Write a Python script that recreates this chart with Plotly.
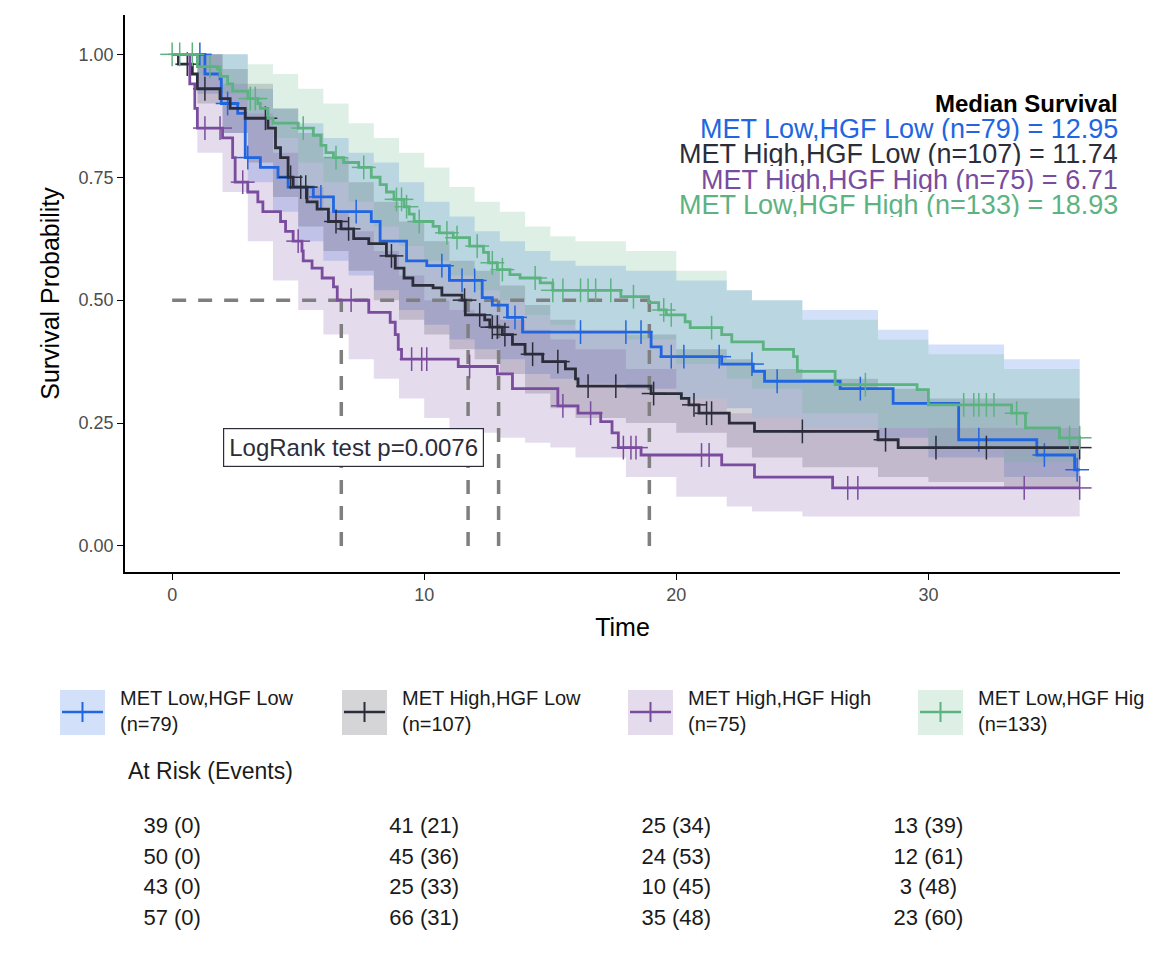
import plotly.graph_objects as go

# ---- data ----
groups = ["MET Low,HGF Low", "MET High,HGF Low", "MET High,HGF High", "MET Low,HGF High"]
n_sizes = [79, 107, 75, 133]
medians = [12.95, 11.74, 6.71, 18.93]
colors = ["#2166e0", "#2b2d3b", "#7a4c9e", "#5cb381"]
fills = ["rgba(33,102,224,0.2)", "rgba(43,45,59,0.2)", "rgba(122,76,158,0.2)", "rgba(92,179,129,0.2)"]

blue_t = [0, 1.3, 1.9, 1.95, 2.6, 2.9, 3.5, 4.2, 4.6, 5.6, 6.4, 7.9, 8.25, 9.3, 10.1, 11.0, 12.3, 12.7,
          13.3, 13.9, 19.0, 19.4, 21.8, 23.05, 23.5, 26.5, 28.6, 31.2, 34.3, 35.8, 36.0]
blue_s = [1.0, 0.96, 0.95, 0.90, 0.88, 0.79, 0.77, 0.75, 0.73, 0.71, 0.68, 0.66, 0.62, 0.58, 0.57, 0.54,
          0.505, 0.49, 0.465, 0.435, 0.405, 0.385, 0.37, 0.355, 0.335, 0.32, 0.29, 0.216, 0.185, 0.155, 0.155]
blue_cens = [1.1, 2.2, 3.0, 5.9, 7.3, 10.7, 11.5, 12.0, 13.6, 16.2, 18.0, 18.6, 19.8, 20.3, 21.7, 23.0,
             24.0, 27.3, 32.0, 34.6, 35.9]

dark_t = [0, 0.25, 0.8, 1.0, 1.9, 2.3, 2.9, 3.8, 4.1, 4.3, 4.6, 4.8, 5.35, 5.75, 6.2, 6.7, 7.2, 7.8, 8.5,
          8.85, 9.2, 9.55, 10.35, 10.7, 11.5, 11.63, 12.4, 12.6, 13.1, 13.5, 14.0, 14.7, 15.6, 16.0, 16.1,
          19.0, 20.2, 20.5, 20.9, 22.1, 23.1, 28.0, 28.8, 36.0]
dark_s = [1.0, 0.98, 0.96, 0.93, 0.91, 0.89, 0.87, 0.85, 0.81, 0.79, 0.75, 0.73, 0.70, 0.685, 0.66, 0.645,
          0.625, 0.615, 0.59, 0.565, 0.545, 0.53, 0.525, 0.51, 0.50, 0.47, 0.46, 0.445, 0.43, 0.41, 0.39,
          0.375, 0.36, 0.34, 0.325, 0.31, 0.30, 0.287, 0.27, 0.25, 0.233, 0.216, 0.20, 0.20]
dark_cens = [0.6, 1.3, 3.7, 4.7, 5.1, 5.3, 6.5, 7.0, 8.7, 11.6, 12.2, 12.7, 12.9, 13.2, 14.3, 15.3, 16.5,
             17.6, 19.1, 20.7, 21.2, 21.4, 25.0, 28.3, 30.3, 32.3, 36.0]

purple_t = [0, 0.7, 0.9, 1.0, 2.0, 2.4, 2.5, 3.0, 3.4, 3.6, 4.3, 4.5, 4.8, 5.15, 5.2, 5.55, 5.95, 6.4,
            6.55, 7.8, 8.65, 8.85, 8.97, 9.1, 11.35, 12.9, 13.5, 15.3, 16.1, 17.0, 17.45, 17.7, 18.6,
            21.8, 23.1, 26.2, 36.0]
purple_s = [1.0, 0.94, 0.89, 0.85, 0.83, 0.79, 0.74, 0.72, 0.70, 0.68, 0.66, 0.64, 0.62, 0.60, 0.58,
            0.565, 0.545, 0.527, 0.50, 0.475, 0.455, 0.43, 0.40, 0.38, 0.365, 0.35, 0.32, 0.285, 0.27,
            0.253, 0.23, 0.20, 0.185, 0.165, 0.14, 0.118, 0.118]
purple_cens = [1.3, 1.9, 2.8, 5.0, 7.1, 9.5, 9.9, 10.1, 11.8, 15.5, 16.6, 17.9, 18.2, 18.4, 21.0, 21.3,
               26.8, 27.2, 33.8, 36.0]

green_t = [0, 1.0, 1.8, 1.9, 2.2, 2.4, 3.0, 3.4, 3.5, 3.8, 4.0, 5.0, 5.6, 5.9, 6.1, 6.4, 6.8, 7.4, 7.9,
           8.25, 8.5, 8.8, 9.2, 9.4, 9.6, 10.35, 10.6, 11.15, 11.8, 12.35, 12.55, 12.9, 13.4, 13.8, 14.6,
           15.1, 17.8, 18.9, 19.3, 19.6, 20.35, 20.55, 21.8, 22.2, 23.45, 24.65, 24.8, 26.3, 29.55, 30.0,
           33.3, 33.85, 35.2, 36.0]
green_s = [1.0, 0.975, 0.97, 0.955, 0.94, 0.925, 0.91, 0.90, 0.89, 0.87, 0.86, 0.85, 0.835, 0.815, 0.80,
           0.79, 0.78, 0.77, 0.75, 0.735, 0.72, 0.705, 0.69, 0.675, 0.66, 0.65, 0.637, 0.627, 0.61,
           0.597, 0.576, 0.562, 0.552, 0.545, 0.535, 0.52, 0.507, 0.495, 0.48, 0.47, 0.456, 0.444, 0.43,
           0.415, 0.40, 0.385, 0.355, 0.328, 0.318, 0.287, 0.27, 0.24, 0.22, 0.22]
green_cens = [0.0, 0.3, 0.8, 1.5, 3.1, 3.3, 5.2, 6.5, 7.6, 8.9, 9.1, 9.3, 9.8, 10.9, 11.3, 12.1, 12.7,
              13.1, 14.4, 15.1, 15.5, 16.2, 16.5, 16.8, 17.4, 18.3, 19.5, 19.8, 21.4, 27.5, 31.4, 31.8,
              32.0, 32.3, 32.6, 33.5, 35.6, 36.0]

# coarse confidence bands (step knots)
band_t = [0, 1, 2, 3, 4, 5, 6, 7, 8, 9, 10, 11, 12, 13, 14, 15, 16, 18, 20, 22, 23, 25, 28, 30, 33, 36]
blue_lo = [1.0, 0.92, 0.84, 0.74, 0.68, 0.62, 0.58, 0.55, 0.52, 0.48, 0.45, 0.42, 0.40, 0.38, 0.35,
           0.34, 0.33, 0.32, 0.30, 0.28, 0.26, 0.24, 0.22, 0.18, 0.14, 0.08]
blue_hi = [1.0, 1.0, 1.0, 0.93, 0.89, 0.86, 0.83, 0.80, 0.78, 0.74, 0.70, 0.67, 0.64, 0.62, 0.60,
           0.58, 0.57, 0.56, 0.54, 0.52, 0.50, 0.48, 0.44, 0.41, 0.38, 0.30]
dark_lo = [1.0, 0.90, 0.84, 0.78, 0.71, 0.65, 0.60, 0.56, 0.50, 0.46, 0.43, 0.40, 0.38, 0.35, 0.31,
           0.28, 0.26, 0.25, 0.23, 0.20, 0.18, 0.16, 0.14, 0.13, 0.12, 0.12]
dark_hi = [1.0, 1.0, 0.97, 0.94, 0.89, 0.84, 0.79, 0.74, 0.70, 0.66, 0.62, 0.58, 0.56, 0.53, 0.49,
           0.46, 0.44, 0.43, 0.40, 0.38, 0.36, 0.34, 0.32, 0.30, 0.30, 0.30]
purple_lo = [1.0, 0.80, 0.72, 0.62, 0.54, 0.48, 0.43, 0.38, 0.34, 0.30, 0.26, 0.24, 0.23, 0.22, 0.21,
             0.20, 0.18, 0.14, 0.10, 0.08, 0.07, 0.06, 0.06, 0.06, 0.06, 0.06]
purple_hi = [1.0, 1.0, 0.94, 0.88, 0.80, 0.73, 0.68, 0.64, 0.60, 0.55, 0.50, 0.48, 0.47, 0.46, 0.44,
             0.42, 0.40, 0.36, 0.30, 0.27, 0.26, 0.24, 0.24, 0.24, 0.24, 0.24]
green_lo = [1.0, 0.96, 0.92, 0.88, 0.83, 0.78, 0.74, 0.70, 0.65, 0.61, 0.58, 0.55, 0.52, 0.50, 0.47,
            0.45, 0.44, 0.42, 0.37, 0.34, 0.32, 0.27, 0.24, 0.20, 0.17, 0.14]
green_hi = [1.0, 1.0, 1.0, 0.98, 0.96, 0.93, 0.90, 0.86, 0.83, 0.80, 0.77, 0.73, 0.70, 0.68, 0.65,
            0.63, 0.62, 0.60, 0.56, 0.52, 0.50, 0.46, 0.42, 0.39, 0.36, 0.32]

risk_times = [0, 10, 20, 30]
risk_labels = [
    ["39 (0)", "41 (21)", "25 (34)", "13 (39)"],
    ["50 (0)", "45 (36)", "24 (53)", "12 (61)"],
    ["43 (0)", "25 (33)", "10 (45)", "3 (48)"],
    ["57 (0)", "66 (31)", "35 (48)", "23 (60)"],
]

curves = [(blue_t, blue_s, blue_cens, blue_lo, blue_hi),
          (dark_t, dark_s, dark_cens, dark_lo, dark_hi),
          (purple_t, purple_s, purple_cens, purple_lo, purple_hi),
          (green_t, green_s, green_cens, green_lo, green_hi)]

OFF = 8  # page body margin


def px(x):
    return (x - OFF) / 1152


def py(y):
    return 1 - (y - OFF) / 960


def step_at(ts, ss, x):
    v = ss[0]
    for t, s in zip(ts, ss):
        if t <= x:
            v = s
    return v


fig = go.Figure()

for (t, s, c, lo, hi), fc in zip(curves, fills):
    fig.add_trace(go.Scatter(x=band_t, y=lo, mode="lines", line=dict(width=0, shape="hv"),
                             hoverinfo="skip", showlegend=False))
    fig.add_trace(go.Scatter(x=band_t, y=hi, mode="lines", line=dict(width=0, shape="hv"),
                             fill="tonexty", fillcolor=fc, hoverinfo="skip", showlegend=False))

dash = dict(color="#7f7f7f", width=3.5, dash="14px,12px")
fig.add_trace(go.Scatter(x=[0, max(medians)], y=[0.5, 0.5], mode="lines", line=dash, showlegend=False))
for m in medians:
    fig.add_trace(go.Scatter(x=[m, m], y=[0, 0.5], mode="lines", line=dash, showlegend=False))

for (t, s, c, lo, hi), col, name in zip(curves, colors, groups):
    fig.add_trace(go.Scatter(x=t, y=s, mode="lines", line=dict(color=col, width=2.8, shape="hv"),
                             name=name, showlegend=False))
    cy = [step_at(t, s, x) for x in c]
    for sym in ["line-ns-open", "line-ew-open"]:
        fig.add_trace(go.Scatter(x=c, y=cy, mode="markers",
                                 marker=dict(symbol=sym, size=17, color=col, line=dict(width=1.5, color=col)),
                                 showlegend=False, hoverinfo="skip"))

# at-risk table
for i, (col, row) in enumerate(zip(colors, risk_labels)):
    fig.add_trace(go.Scatter(x=risk_times, y=[i] * 4, mode="text", text=row, xaxis="x2", yaxis="y2",
                             textfont=dict(size=22, color="#1a1a1a"), showlegend=False, hoverinfo="skip"))
    fig.add_trace(go.Scatter(x=[-2.85], y=[i], mode="markers", xaxis="x2", yaxis="y2", cliponaxis=False,
                             marker=dict(size=19, color=col), showlegend=False, hoverinfo="skip"))

fig.add_annotation(xref="paper", yref="paper", x=px(126), y=py(786), text="At Risk (Events)",
                   showarrow=False, xanchor="left", font=dict(size=23, color="#1a1a1a"))

fig.add_annotation(xref="paper", yref="paper", x=px(1120), y=py(88), text="<b>Median Survival</b>",
                   showarrow=False, xanchor="right", font=dict(size=24, color="black"))
for i, (g, n, m, col) in enumerate(zip(groups, n_sizes, medians, colors)):
    fig.add_annotation(xref="paper", yref="paper", x=px(1120), y=py(114 + 25.3 * i),
                       text=f"{g} (n={n}) = {m:.2f}", showarrow=False, xanchor="right",
                       font=dict(size=27, color=col), height=25)

fig.add_annotation(x=7.2, y=0.2, text="LogRank test p=0.0076", showarrow=False,
                   font=dict(size=24, color="#2b2d3b"), bordercolor="#2b2d3b", borderwidth=1.2,
                   borderpad=5, bgcolor="white")

# custom legend
for i, (g, n, col, fc) in enumerate(zip(groups, n_sizes, colors, fills)):
    x0 = 60 + [0, 282, 568, 858][i]
    fig.add_shape(type="rect", xref="paper", yref="paper", x0=px(x0), x1=px(x0 + 45),
                  y0=py(735), y1=py(690), fillcolor=fc, line=dict(width=0))
    fig.add_shape(type="line", xref="paper", yref="paper", x0=px(x0 + 2), x1=px(x0 + 43),
                  y0=py(712), y1=py(712), line=dict(color=col, width=2.5))
    fig.add_shape(type="line", xref="paper", yref="paper", x0=px(x0 + 22.5), x1=px(x0 + 22.5),
                  y0=py(702), y1=py(722), line=dict(color=col, width=2))
    fig.add_annotation(xref="paper", yref="paper", x=px(x0 + 58), y=py(711),
                       text=f"{g}<br>(n={n})", showarrow=False, xanchor="left", yanchor="middle",
                       align="left", font=dict(size=20, color="#1a1a1a"))

fig.update_layout(
    width=1152, height=960, margin=dict(l=0, r=0, t=0, b=0),
    plot_bgcolor="white", paper_bgcolor="white",
    font=dict(family="Liberation Sans", color="#1a1a1a"),
    xaxis=dict(domain=[px(125), px(1120)], range=[-1.87, 37.6], tickvals=[0, 10, 20, 30],
               showgrid=False, zeroline=False, showline=True, linecolor="black", linewidth=1.5,
               ticks="outside", ticklen=6, tickcolor="black", tickfont=dict(size=18, color="#4d4d4d"),
               title=dict(text="Time", font=dict(size=25, color="black"), standoff=14), automargin=False),
    yaxis=dict(domain=[py(572), py(15)], range=[-0.053, 1.08],
               tickvals=[0, 0.25, 0.5, 0.75, 1.0], ticktext=["0.00", "0.25", "0.50", "0.75", "1.00"],
               showgrid=False, zeroline=False, showline=True, linecolor="black", linewidth=1.5,
               ticks="outside", ticklen=6, tickcolor="black", tickfont=dict(size=18, color="#4d4d4d"),
               title=dict(text="Survival Probability", font=dict(size=25, color="black"), standoff=12),
               automargin=False),
    xaxis2=dict(domain=[px(125), px(1120)], range=[-1.87, 37.6], anchor="y2", visible=False),
    yaxis2=dict(domain=[py(935), py(812)], range=[3.5, -0.5], anchor="x2", visible=False),
)

fig.write_html("out.html")
